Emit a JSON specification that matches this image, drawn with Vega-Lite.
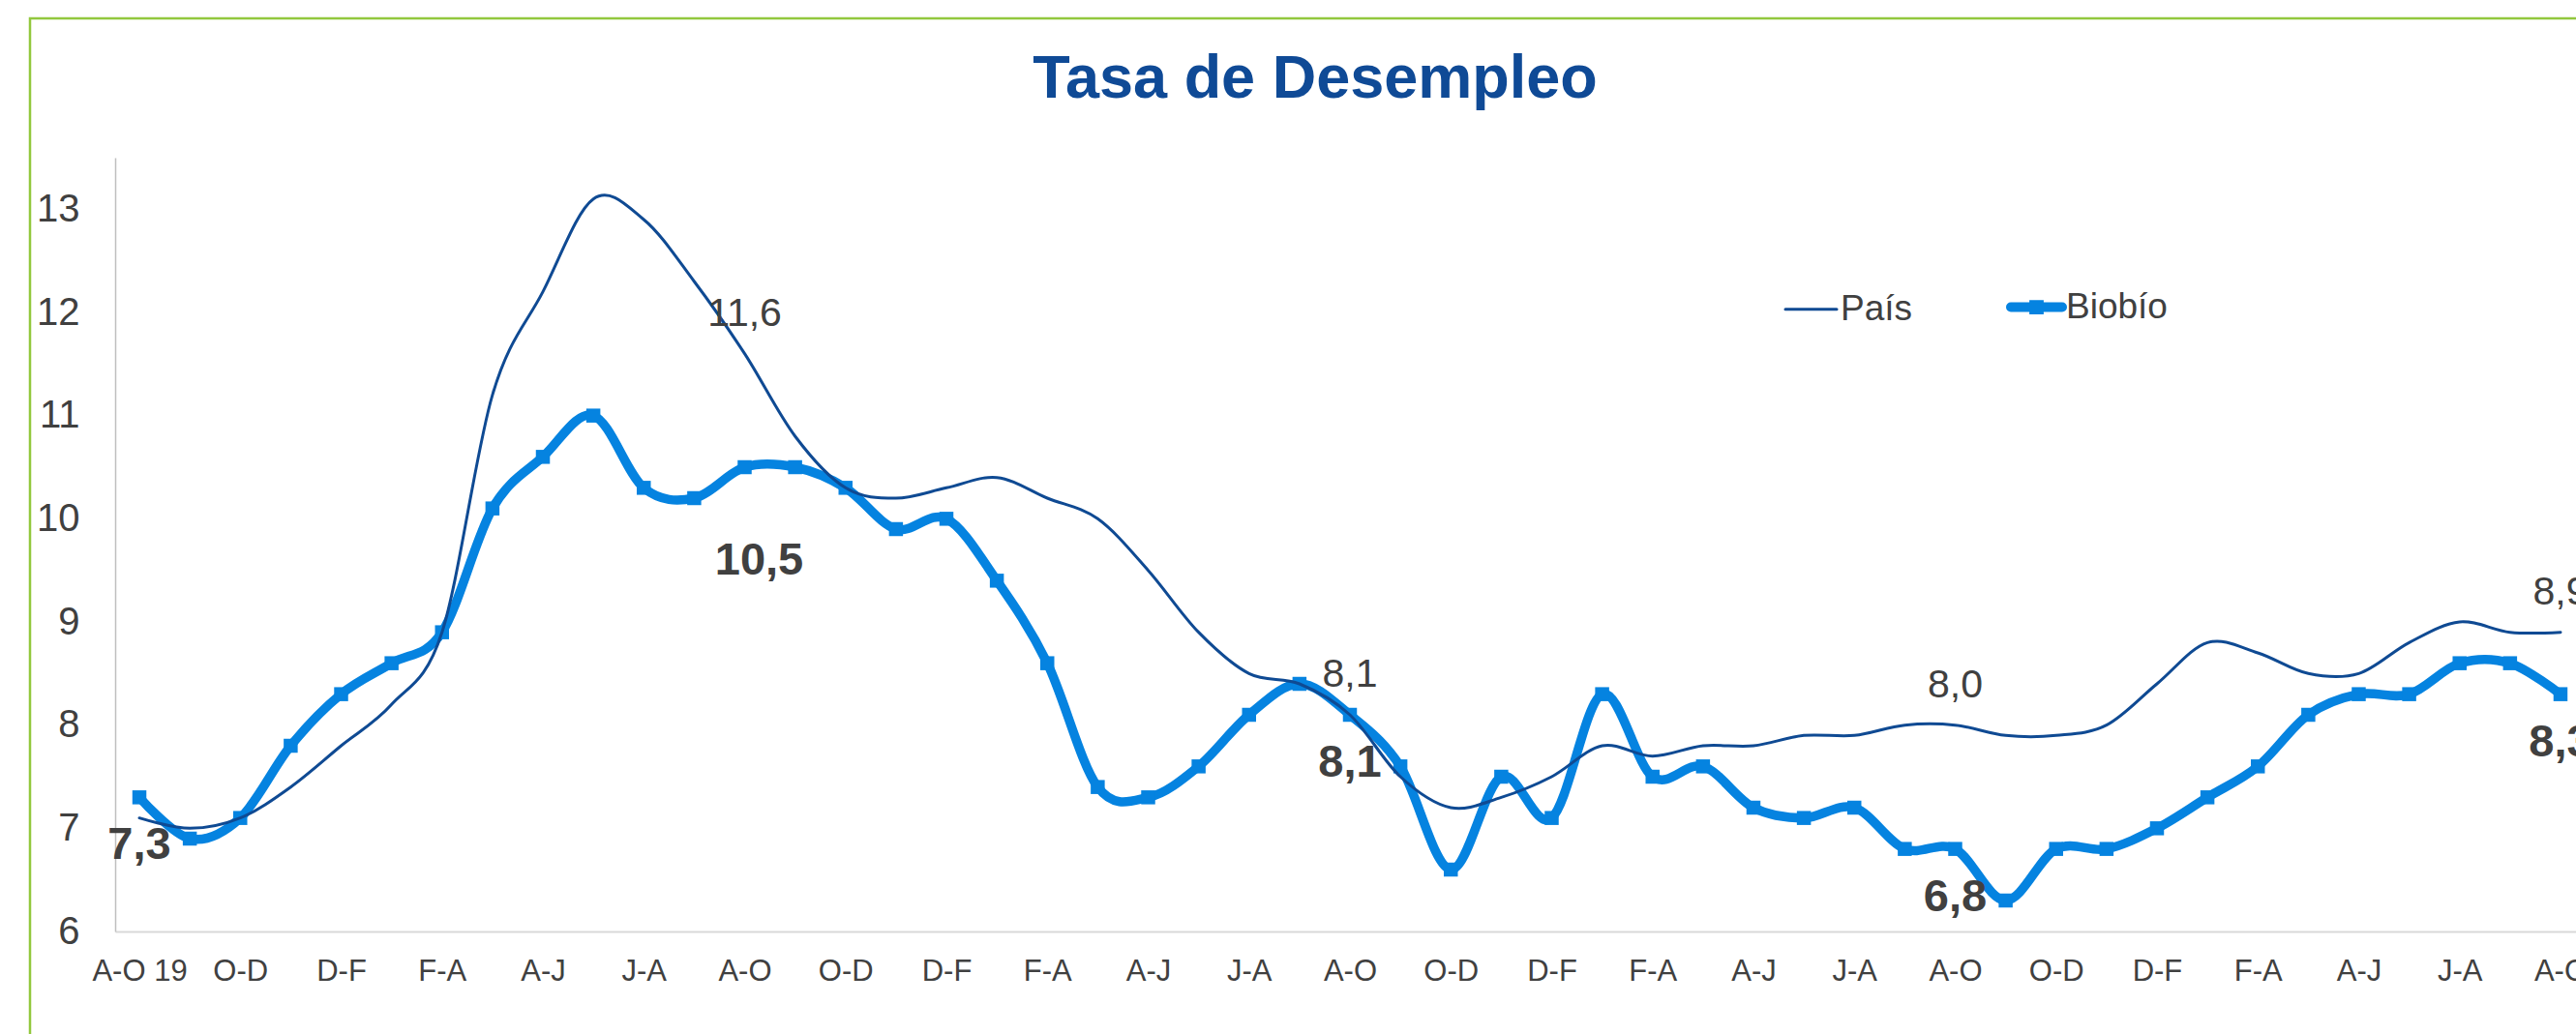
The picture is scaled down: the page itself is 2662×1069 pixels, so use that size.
{
  "$schema": "https://vega.github.io/schema/vega-lite/v6.json",
  "width": 2650,
  "height": 1065,
  "autosize": {"type": "none"},
  "padding": {"left": 31, "top": 19, "right": 0, "bottom": 0},
  "background": "white",
  "config": {
    "locale": {"number": {"decimal": ",", "thousands": ".", "grouping": [3], "currency": ["$", ""]}},
    "view": {"stroke": "#92C83E", "strokeWidth": 2.5},
    "font": "Liberation Sans"
  },
  "title": {
    "text": "Tasa de Desempleo",
    "fontSize": 63,
    "fontWeight": "bold",
    "color": "#0F4A96",
    "font": "Liberation Sans",
    "anchor": "middle",
    "frame": "group",
    "offset": -95,
    "dx": 3
  },
  "data": {
    "values": [
      {"t": 0, "periodo": "A-O 2019", "País": 7.1, "Biobío": 7.3},
      {"t": 1, "periodo": "S-N 2019", "País": 7.0, "Biobío": 6.9},
      {"t": 2, "periodo": "O-D 2019", "País": 7.1, "Biobío": 7.1},
      {"t": 3, "periodo": "N-E 2020", "País": 7.4, "Biobío": 7.8},
      {"t": 4, "periodo": "D-F 2020", "País": 7.8, "Biobío": 8.3},
      {"t": 5, "periodo": "E-M 2020", "País": 8.2, "Biobío": 8.6},
      {"t": 6, "periodo": "F-A 2020", "País": 8.9, "Biobío": 8.9},
      {"t": 7, "periodo": "M-M 2020", "País": 11.2, "Biobío": 10.1},
      {"t": 8, "periodo": "A-J 2020", "País": 12.2, "Biobío": 10.6},
      {"t": 9, "periodo": "M-J 2020", "País": 13.1, "Biobío": 11.0},
      {"t": 10, "periodo": "J-A 2020", "País": 12.9, "Biobío": 10.3},
      {"t": 11, "periodo": "J-S 2020", "País": 12.3, "Biobío": 10.2},
      {"t": 12, "periodo": "A-O 2020", "País": 11.6, "Biobío": 10.5},
      {"t": 13, "periodo": "S-N 2020", "País": 10.8, "Biobío": 10.5},
      {"t": 14, "periodo": "O-D 2020", "País": 10.3, "Biobío": 10.3},
      {"t": 15, "periodo": "N-E 2021", "País": 10.2, "Biobío": 9.9},
      {"t": 16, "periodo": "D-F 2021", "País": 10.3, "Biobío": 10.0},
      {"t": 17, "periodo": "E-M 2021", "País": 10.4, "Biobío": 9.4},
      {"t": 18, "periodo": "F-A 2021", "País": 10.2, "Biobío": 8.6},
      {"t": 19, "periodo": "M-M 2021", "País": 10.0, "Biobío": 7.4},
      {"t": 20, "periodo": "A-J 2021", "País": 9.5, "Biobío": 7.3},
      {"t": 21, "periodo": "M-J 2021", "País": 8.9, "Biobío": 7.6},
      {"t": 22, "periodo": "J-A 2021", "País": 8.5, "Biobío": 8.1},
      {"t": 23, "periodo": "J-S 2021", "País": 8.4, "Biobío": 8.4},
      {"t": 24, "periodo": "A-O 2021", "País": 8.1, "Biobío": 8.1},
      {"t": 25, "periodo": "S-N 2021", "País": 7.5, "Biobío": 7.6},
      {"t": 26, "periodo": "O-D 2021", "País": 7.2, "Biobío": 6.6},
      {"t": 27, "periodo": "N-E 2022", "País": 7.3, "Biobío": 7.5},
      {"t": 28, "periodo": "D-F 2022", "País": 7.5, "Biobío": 7.1},
      {"t": 29, "periodo": "E-M 2022", "País": 7.8, "Biobío": 8.3},
      {"t": 30, "periodo": "F-A 2022", "País": 7.7, "Biobío": 7.5},
      {"t": 31, "periodo": "M-M 2022", "País": 7.8, "Biobío": 7.6},
      {"t": 32, "periodo": "A-J 2022", "País": 7.8, "Biobío": 7.2},
      {"t": 33, "periodo": "M-J 2022", "País": 7.9, "Biobío": 7.1},
      {"t": 34, "periodo": "J-A 2022", "País": 7.9, "Biobío": 7.2},
      {"t": 35, "periodo": "J-S 2022", "País": 8.0, "Biobío": 6.8},
      {"t": 36, "periodo": "A-O 2022", "País": 8.0, "Biobío": 6.8},
      {"t": 37, "periodo": "S-N 2022", "País": 7.9, "Biobío": 6.3},
      {"t": 38, "periodo": "O-D 2022", "País": 7.9, "Biobío": 6.8},
      {"t": 39, "periodo": "N-E 2023", "País": 8.0, "Biobío": 6.8},
      {"t": 40, "periodo": "D-F 2023", "País": 8.4, "Biobío": 7.0},
      {"t": 41, "periodo": "E-M 2023", "País": 8.8, "Biobío": 7.3},
      {"t": 42, "periodo": "F-A 2023", "País": 8.7, "Biobío": 7.6},
      {"t": 43, "periodo": "M-M 2023", "País": 8.5, "Biobío": 8.1},
      {"t": 44, "periodo": "A-J 2023", "País": 8.5, "Biobío": 8.3},
      {"t": 45, "periodo": "M-J 2023", "País": 8.8, "Biobío": 8.3},
      {"t": 46, "periodo": "J-A 2023", "País": 9.0, "Biobío": 8.6},
      {"t": 47, "periodo": "J-S 2023", "País": 8.9, "Biobío": 8.6},
      {"t": 48, "periodo": "A-O 2023", "País": 8.9, "Biobío": 8.3}
    ]
  },
  "transform": [{"fold": ["País", "Biobío"], "as": ["serie", "valor"]}],
  "encoding": {
    "x": {
      "field": "t",
      "type": "quantitative",
      "scale": {"domain": [-0.48, 49], "range": [88, 2667.1], "nice": false, "zero": false},
      "axis": {
        "title": null,
        "values": [0, 2, 4, 6, 8, 10, 12, 14, 16, 18, 20, 22, 24, 26, 28, 30, 32, 34, 36, 38, 40, 42, 44, 46, 48],
        "labelExpr": "['A-O 19','O-D','D-F','F-A','A-J','J-A','A-O','O-D','D-F','F-A','A-J','J-A','A-O','O-D','D-F','F-A','A-J','J-A','A-O','O-D','D-F','F-A','A-J','J-A','A-O'][datum.value / 2]",
        "ticks": false,
        "grid": false,
        "domainColor": "#D9D9D9",
        "domainWidth": 2,
        "labelFont": "Liberation Sans",
        "labelFontSize": 31,
        "labelColor": "#404040",
        "labelPadding": 26,
        "labelFlush": false,
        "labelOverlap": false,
        "offset": -121
      }
    },
    "y": {
      "field": "valor",
      "type": "quantitative",
      "scale": {"domain": [6, 13.5], "range": [944, 144], "nice": false, "zero": false},
      "axis": {
        "title": null,
        "values": [6, 7, 8, 9, 10, 11, 12, 13],
        "ticks": false,
        "grid": false,
        "domainColor": "#BFBFBF",
        "domainWidth": 1.5,
        "labelFont": "Liberation Sans",
        "labelFontSize": 40,
        "labelColor": "#404040",
        "labelPadding": 37,
        "offset": -88
      }
    },
    "color": {
      "field": "serie",
      "type": "nominal",
      "scale": {"domain": ["País", "Biobío"], "range": ["#0F4A93", "#0583E0"]},
      "legend": {
        "orient": "none",
        "legendX": 1822,
        "legendY": 280,
        "direction": "horizontal",
        "title": null,
        "symbolType": "stroke",
        "symbolSize": 2809,
        "symbolStrokeWidth": 3,
        "labelFont": "Liberation Sans",
        "labelFontSize": 37,
        "labelColor": "#404040",
        "labelOffset": 12,
        "columnPadding": 81,
        "padding": 0,
        "encode": {
          "symbols": {
            "update": {
              "strokeWidth": {"signal": "datum.value === 'Biobío' ? 10 : 3"},
              "strokeCap": {"value": "round"},
              "shape": {"signal": "datum.value === 'Biobío' ? 'M-1,0L1,0M-0.09,-0.09L0.09,-0.09L0.09,0.09L-0.09,0.09Z' : 'stroke'"},
              "fill": {"signal": "datum.value === 'Biobío' ? '#0583E0' : 'transparent'"}
            }
          }
        }
      }
    }
  },
  "layer": [
    {
      "transform": [{"filter": "datum.serie === 'Biobío'"}],
      "mark": {"type": "line", "interpolate": "cardinal", "strokeWidth": 9.5, "strokeCap": "round", "strokeJoin": "round"}
    },
    {
      "transform": [{"filter": "datum.serie === 'Biobío'"}],
      "mark": {"type": "point", "shape": "square", "filled": true, "size": 210, "opacity": 1}
    },
    {
      "transform": [{"filter": "datum.serie === 'País'"}],
      "mark": {"type": "line", "interpolate": "cardinal", "strokeWidth": 3, "strokeCap": "round", "strokeJoin": "round"}
    },
    {
      "transform": [{"filter": "datum.serie === 'País' && datum.t % 12 === 0 && datum.t > 0"}],
      "mark": {"type": "text", "font": "Liberation Sans", "fontSize": 41, "dy": -41, "baseline": "middle", "align": "center"},
      "encoding": {
        "text": {"field": "valor", "type": "quantitative", "format": ".1f"},
        "color": {"value": "#404040"}
      }
    },
    {
      "transform": [{"filter": "datum.serie === 'Biobío' && datum.t % 12 === 0 && datum.t !== 12"}],
      "mark": {"type": "text", "font": "Liberation Sans", "fontSize": 47, "fontWeight": "bold", "dy": 50, "baseline": "middle", "align": "center"},
      "encoding": {
        "text": {"field": "valor", "type": "quantitative", "format": ".1f"},
        "color": {"value": "#404040"}
      }
    },
    {
      "transform": [{"filter": "datum.serie === 'Biobío' && datum.t === 12"}],
      "mark": {"type": "text", "font": "Liberation Sans", "fontSize": 47, "fontWeight": "bold", "dy": 97, "dx": 15, "baseline": "middle", "align": "center"},
      "encoding": {
        "text": {"field": "valor", "type": "quantitative", "format": ".1f"},
        "color": {"value": "#404040"}
      }
    }
  ]
}
